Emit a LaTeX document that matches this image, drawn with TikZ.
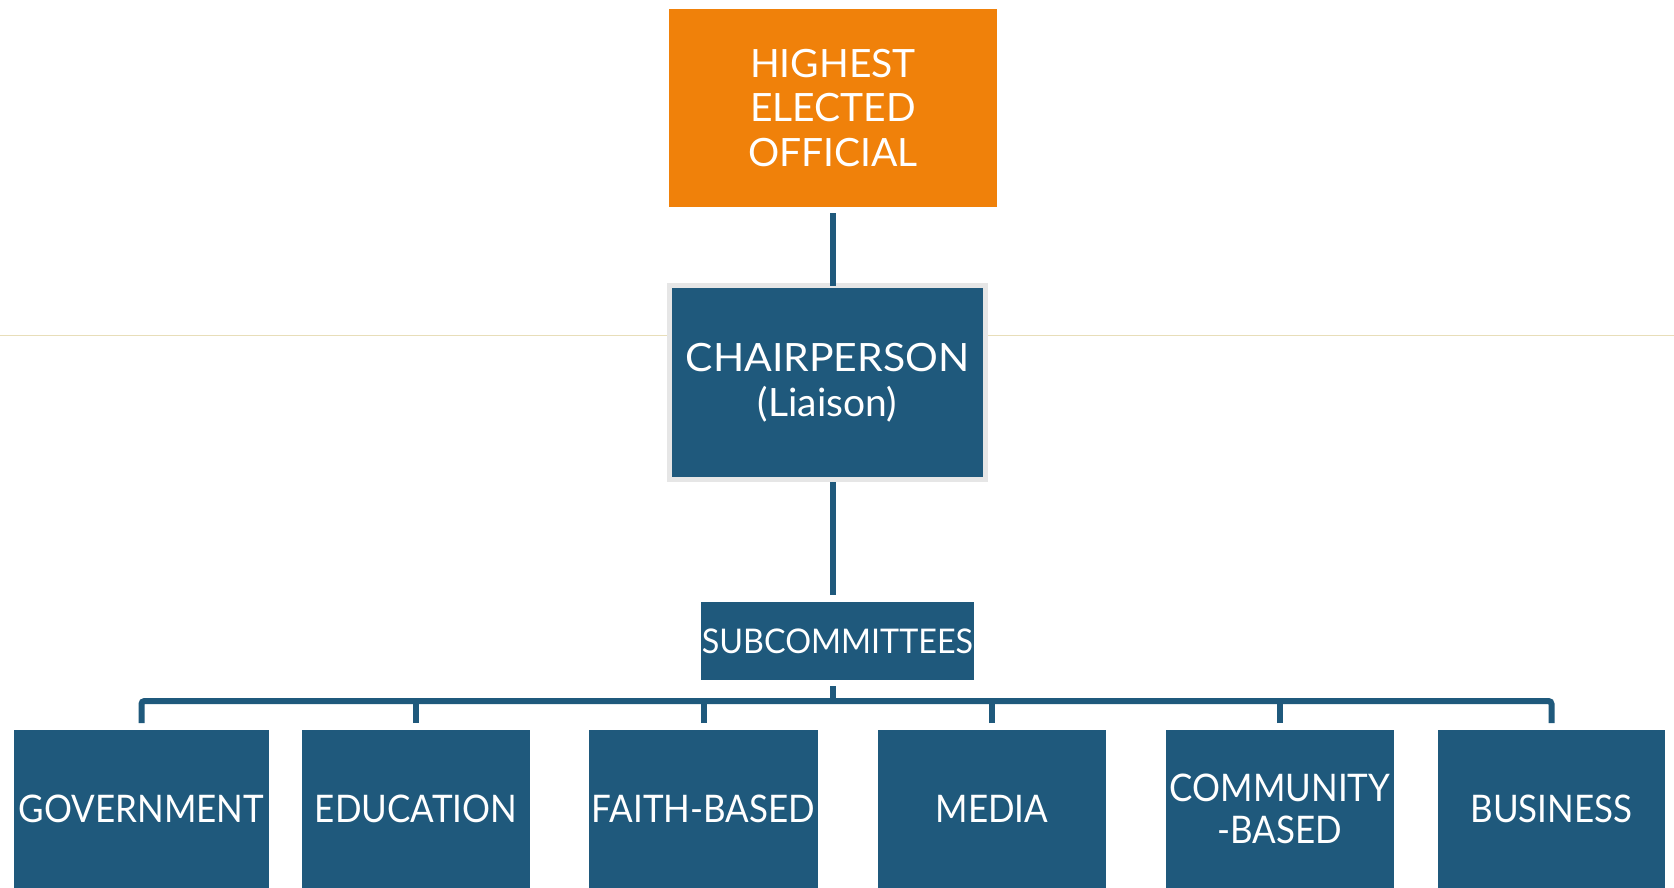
\documentclass[tikz,border=0pt]{standalone}
\usepackage{fontspec}
\setmainfont{Lato}
\newfontfamily\narrowfont[FakeStretch=0.92]{Lato}
\newfontfamily\subfont[FakeStretch=0.95]{Lato}
\newfontfamily\widefont[FakeStretch=1.05]{Lato}
\usetikzlibrary{calc}
\definecolor{orgOrange}{RGB}{240,129,10}
\definecolor{orgBlue}{RGB}{31,89,124}
\definecolor{orgGray}{RGB}{230,230,230}
\definecolor{guideTan}{RGB}{232,222,185}
\tikzset{
  box/.style={rectangle, inner sep=0pt, outer sep=0pt, text=white, align=center},
  bluebox/.style={box, fill=orgBlue},
  leaf/.style={bluebox, lowtext, minimum height=158pt},
  conn/.style={draw=orgBlue, line width=6pt},
  bigtext/.style={font=\fontsize{39}{44.5}\selectfont},
  subtext/.style={font=\subfont\fontsize{34}{40}\selectfont},
  lowtext/.style={font=\narrowfont\fontsize{38}{41.5}\selectfont},
}
\begin{document}
\begin{tikzpicture}[x=1pt,y=-1pt]
\useasboundingbox (0,0) rectangle (1674,888);
\clip (0,0) rectangle (1674,888);
\fill[white] (0,0) rectangle (1674,888);
\draw[guideTan, line width=1pt] (0,335) -- (1674,335);

\node[box, fill=orgOrange, bigtext, minimum width=328pt, minimum height=198pt] (top) at (833,108) {HIGHEST\\ELECTED\\OFFICIAL};
\node[bluebox, draw=orgGray, line width=5pt, bigtext, minimum width=316pt, minimum height=194pt] (chair) at (827.5,382.5) {{\widefont CHAIRPERSON}\\(Liaison)};
\node[bluebox, subtext, minimum width=273pt, minimum height=78pt] (sub) at (837.5,641) {SUBCOMMITTEES};

\node[leaf, minimum width=255pt] (gov) at (141.5,809) {GOVERNMENT};
\node[leaf, minimum width=228pt] (edu) at (416,809) {EDUCATION};
\node[leaf, minimum width=229pt] (faith) at (703.5,809) {FAITH-BASED};
\node[leaf, minimum width=228pt] (media) at (992,809) {MEDIA};
\node[leaf, minimum width=228pt] (comm) at (1280,809) {COMMUNITY\\-BASED};
\node[leaf, minimum width=227pt] (bus) at (1551.5,809) {BUSINESS};

\coordinate (bar) at (833,701);

\draw[conn] ([yshift=-6pt]top.south) -- (top.south |- chair.north);
\draw[conn] ([yshift=-2.5pt]top.south |- chair.south) -- ([yshift=7pt]top.south |- sub.north);
\draw[conn] ([yshift=-6pt]top.south |- sub.south) -- (bar);
\draw[conn, rounded corners=3pt] ([yshift=7pt]gov.north) |- (bar) -| ([yshift=7pt]bus.north);
\draw[conn] ([yshift=7pt]edu.north) -- (edu.north |- bar);
\draw[conn] ([yshift=7pt]faith.north) -- (faith.north |- bar);
\draw[conn] ([yshift=7pt]media.north) -- (media.north |- bar);
\draw[conn] ([yshift=7pt]comm.north) -- (comm.north |- bar);
\end{tikzpicture}
\end{document}
